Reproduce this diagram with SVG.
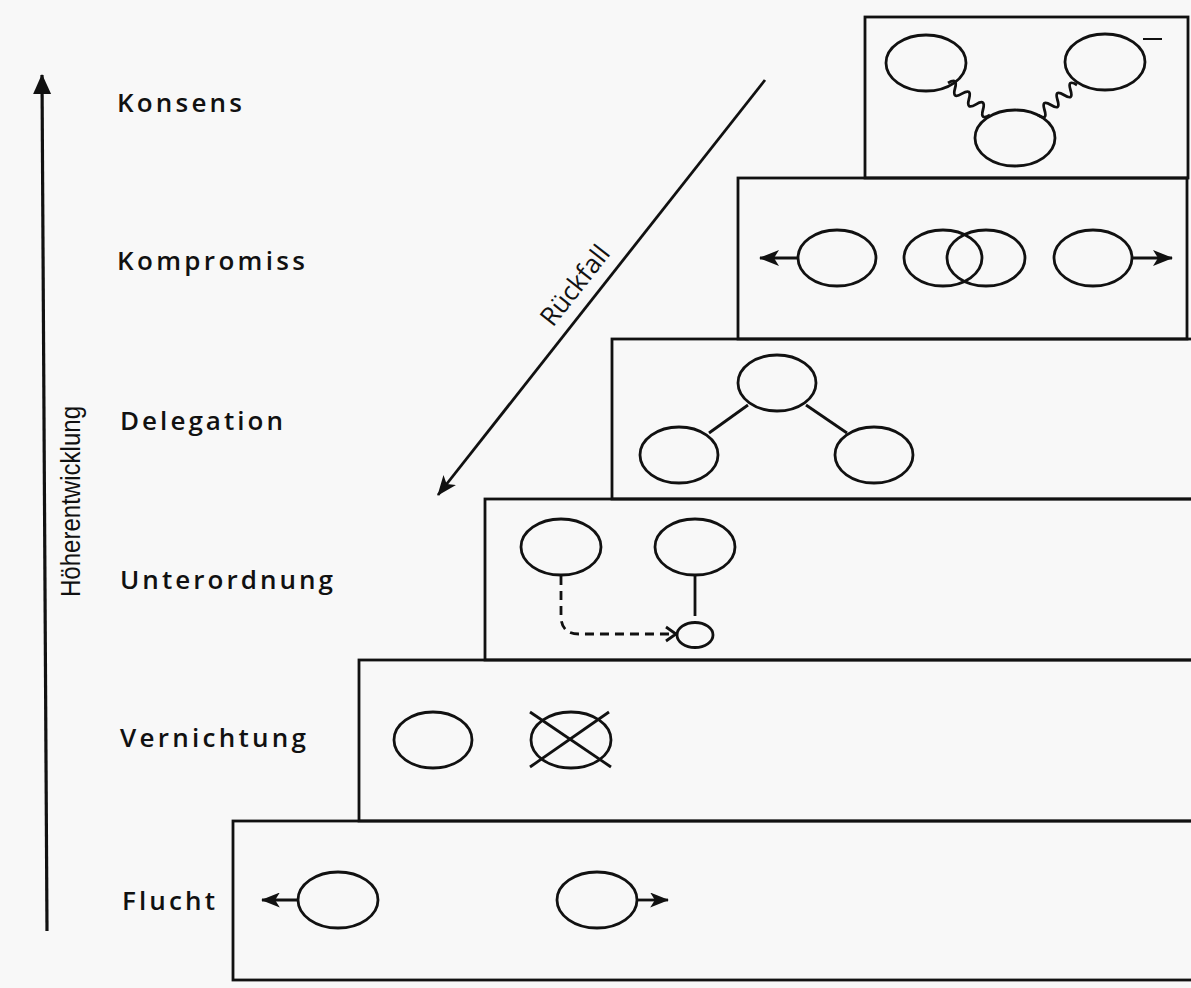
<svg xmlns="http://www.w3.org/2000/svg" width="1191" height="988" viewBox="0 0 1191 988">
<style>
.bx{fill:none;stroke:#111;stroke-width:2.8}
.c{fill:none;stroke:#111;stroke-width:2.8}
.ln{fill:none;stroke:#111;stroke-width:2.8}
.lbl{font-family:"Open Sans","Noto Sans",sans-serif;font-size:26px;font-weight:600;fill:#111}
.rot{font-family:"Liberation Sans Narrow","Liberation Sans","DejaVu Sans",sans-serif;font-size:27px;fill:#111}
.rk{font-family:"Open Sans","Noto Sans",sans-serif;font-size:26px;fill:#111}
</style>
<defs>
<marker id="ah" viewBox="0 0 20 16" refX="19" refY="8" markerWidth="20" markerHeight="16" markerUnits="userSpaceOnUse" orient="auto">
<path d="M0,0 L20,8 L0,16 L5,8 z" fill="#111"/>
</marker>
<marker id="ahs" viewBox="0 0 20 16" refX="19" refY="8" markerWidth="19" markerHeight="15" markerUnits="userSpaceOnUse" orient="auto">
<path d="M0,0 L20,8 L0,16 L5,8 z" fill="#111"/>
</marker>
<marker id="av" viewBox="0 0 20 18" refX="19" refY="9" markerWidth="20" markerHeight="22" markerUnits="userSpaceOnUse" orient="auto">
<path d="M0,0 L20,9 L0,18 z" fill="#111"/>
</marker>
</defs>
<rect width="1191" height="988" fill="#f8f8f8"/>

<g id="connectors">
<line x1="47" y1="931" x2="42" y2="75" stroke="#111" stroke-width="3.2" marker-end="url(#av)"/>
<line x1="765" y1="80" x2="438" y2="495" stroke="#111" stroke-width="2.8" marker-end="url(#ah)"/>
</g>

<g id="axis-label">
<text class="rot" transform="translate(80,597) rotate(-90)" textLength="191" lengthAdjust="spacingAndGlyphs">Höherentwicklung</text>
<text class="rk" transform="translate(582,291) rotate(-51.8)" text-anchor="middle">Rückfall</text>
</g>

<g id="labels">
<text class="lbl" x="117" y="112" textLength="125" lengthAdjust="spacing">Konsens</text>
<text class="lbl" x="117" y="270" textLength="188" lengthAdjust="spacing">Kompromiss</text>
<text class="lbl" x="120" y="430" textLength="163" lengthAdjust="spacing">Delegation</text>
<text class="lbl" x="120" y="589" textLength="213" lengthAdjust="spacing">Unterordnung</text>
<text class="lbl" x="120" y="747" textLength="186" lengthAdjust="spacing">Vernichtung</text>
<text class="lbl" x="122" y="910" textLength="93" lengthAdjust="spacing">Flucht</text>
</g>

<g id="konsens">
<rect class="bx" x="865" y="17" width="323" height="161"/>
<ellipse class="c" cx="926" cy="63" rx="40" ry="28"/>
<ellipse class="c" cx="1105" cy="62" rx="40" ry="28"/>
<ellipse class="c" cx="1015" cy="138" rx="40" ry="28"/>
<path class="ln" transform="translate(948,83) rotate(37.3)" d="M0,0 q4.4,-11 8.8,0 t8.8,0 t8.8,0 t8.8,0 t8.8,0 t8.8,0"/>
<path class="ln" transform="translate(1077,85) rotate(142.4)" d="M0,0 q4.1,11 8.2,0 t8.2,0 t8.2,0 t8.2,0 t8.2,0 t8.2,0"/>
<line x1="1143" y1="39" x2="1162" y2="39" stroke="#111" stroke-width="2"/>
</g>

<g id="kompromiss">
<rect class="bx" x="738" y="178" width="449" height="161"/>
<ellipse class="c" cx="837" cy="258" rx="39" ry="28"/>
<ellipse class="c" cx="943" cy="258" rx="39" ry="28"/>
<ellipse class="c" cx="986" cy="258" rx="39" ry="28"/>
<ellipse class="c" cx="1093" cy="258" rx="39" ry="28"/>
<line class="ln" x1="798" y1="258" x2="760" y2="258" marker-end="url(#ah)"/>
<line class="ln" x1="1132" y1="258" x2="1172" y2="258" marker-end="url(#ah)"/>
</g>

<g id="delegation">
<rect class="bx" x="612" y="339" width="600" height="160"/>
<ellipse class="c" cx="777" cy="383" rx="39" ry="28"/>
<ellipse class="c" cx="679" cy="455" rx="39" ry="28"/>
<ellipse class="c" cx="874" cy="455" rx="39" ry="28"/>
<line class="ln" x1="748" y1="405" x2="709" y2="433"/>
<line class="ln" x1="806" y1="405" x2="847" y2="433"/>
</g>

<g id="unterordnung">
<rect class="bx" x="485" y="499" width="720" height="161"/>
<ellipse class="c" cx="561" cy="547" rx="40" ry="28"/>
<ellipse class="c" cx="695" cy="547" rx="40" ry="28"/>
<line class="ln" x1="695" y1="575" x2="695" y2="616"/>
<ellipse class="c" cx="695" cy="635" rx="18" ry="12.5"/>
<path class="ln" d="M561,576 L561,616 Q561,634 579,634 L676,634" stroke-dasharray="9 6"/>
<polyline class="ln" points="666,627 676,634 666,641"/>
</g>

<g id="vernichtung">
<rect class="bx" x="359" y="660" width="850" height="161"/>
<ellipse class="c" cx="433" cy="740" rx="39" ry="28"/>
<ellipse class="c" cx="571" cy="740" rx="40" ry="28"/>
<line class="ln" x1="530" y1="712" x2="611" y2="767"/>
<line class="ln" x1="609" y1="712" x2="530" y2="767"/>
</g>

<g id="flucht">
<rect class="bx" x="233" y="821" width="980" height="159"/>
<ellipse class="c" cx="338" cy="900" rx="40" ry="28"/>
<ellipse class="c" cx="597" cy="900" rx="40" ry="28"/>
<line class="ln" x1="298" y1="900" x2="262" y2="900" marker-end="url(#ahs)"/>
<line class="ln" x1="637" y1="900" x2="668" y2="900" marker-end="url(#ahs)"/>
</g>
</svg>
